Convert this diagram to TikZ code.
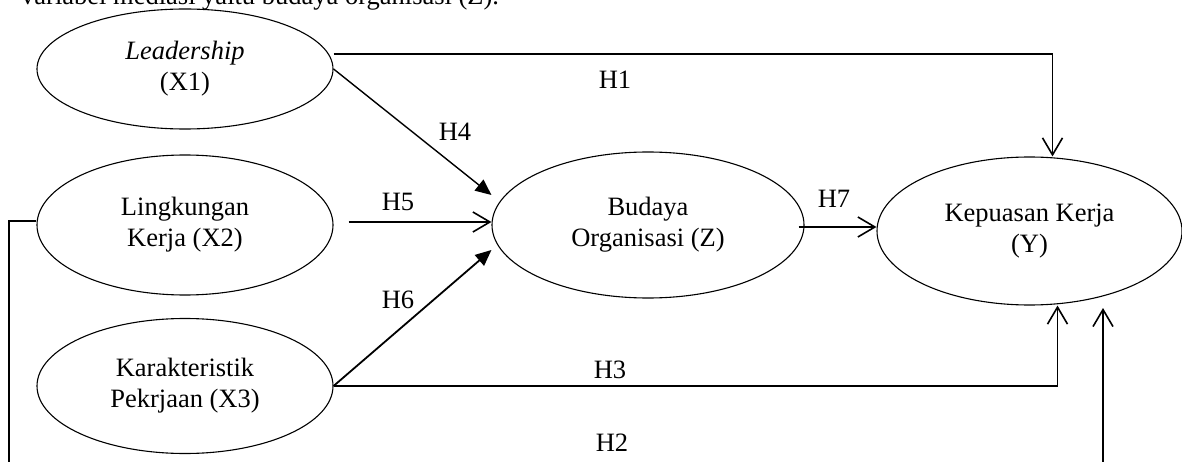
\documentclass[tikz,border=0pt]{standalone}
\usepackage{fontspec}
\setmainfont{Liberation Serif}
\usetikzlibrary{shapes.geometric,arrows.meta}
\begin{document}
\begin{tikzpicture}[x=1pt,y=-1pt,
 var/.style={ellipse,draw,line width=1.1pt,inner sep=0pt,align=center,font=\fontsize{26.5}{31}\selectfont},
 lbl/.style={font=\fontsize{26.5}{31}\selectfont,inner sep=0pt},
 openarr/.style={line width=1.6pt,-{Straight Barb[length=17pt,width=20pt,line width=1.6pt]}},
 fillarr/.style={line width=1.4pt,-{Triangle[length=16pt,width=14pt]}},
 plain/.style={line width=1.6pt}]
\useasboundingbox (0,0) rectangle (1182,462);
\clip (0,0) rectangle (1182,462);
\node[lbl,anchor=base west] (top) at (21,5) {variabel mediasi yaitu budaya organisasi (Z).};
\node[var,minimum width=296pt,minimum height=120pt] (X1) at (185,69) {\textit{Leadership}\\(X1)};
\node[var,minimum width=296pt,minimum height=140pt] (X2) at (185,225) {Lingkungan\\Kerja (X2)};
\node[var,minimum width=296pt,minimum height=135pt] (X3) at (185,386) {Karakteristik\\Pekrjaan (X3)};
\node[var,minimum width=312pt,minimum height=146pt] (Z) at (648,225) {Budaya\\Organisasi (Z)};
\node[var,minimum width=305pt,minimum height=148pt] (Y) at (1029.5,231) {Kepuasan Kerja\\(Y)};
\coordinate (h2a) at (9,480);
\coordinate (h2b) at (1103,480);
\coordinate (h2t) at (1103,308);
% H1
\draw[openarr] ([yshift=15pt]X1.east) -| ([xshift=23pt]Y.north);
\node[lbl] (lH1) at (615,80) {H1};
% H4
\draw[fillarr] (X1.east) -- ([yshift=30pt]Z.west);
\node[lbl] (lH4) at (455,132) {H4};
% H5
\draw[openarr] ([xshift=15pt,yshift=3pt]X2.east) -- ([yshift=3pt]Z.west);
\node[lbl] (lH5) at (398,202) {H5};
% H6
\draw[fillarr,line width=1.8pt] (X3.east) -- ([yshift=-25pt]Z.west);
\node[lbl] (lH6) at (398,300) {H6};
% H3
\draw[openarr] (X3.east) -| ([xshift=28pt]Y.south);
\node[lbl] (lH3) at (610,370) {H3};
% H2
\draw[openarr] ([yshift=4pt]X2.west) -| (h2a) -- (h2b) -- (h2t);
\node[lbl] (lH2) at (612,443) {H2};
% H7
\draw[openarr] ([xshift=-6pt,yshift=-2pt]Z.east) -- ([yshift=4pt]Y.west);
\node[lbl] (lH7) at (834,199) {H7};
\end{tikzpicture}
\end{document}
